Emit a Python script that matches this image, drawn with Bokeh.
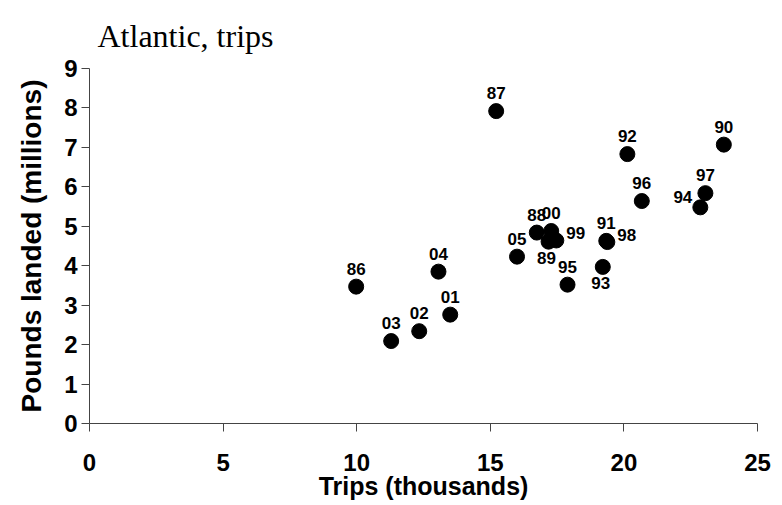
from bokeh.plotting import figure
from bokeh.models import ColumnDataSource, FixedTicker
from bokeh.core.properties import value
from bokeh.embed import file_html
from bokeh.resources import INLINE

# Atlantic fishery: trips (thousands) vs pounds landed (millions), by year
years = ["86", "87", "88", "89", "90", "91", "92", "93", "94", "95",
         "96", "97", "98", "99", "00", "01", "02", "03", "04", "05"]
trips = [9.98, 15.22, 16.74, 17.18, 23.74, 19.34, 20.13, 19.21, 22.86, 17.89,
         20.67, 23.05, 19.38, 17.47, 17.28, 13.50, 12.34, 11.29, 13.06, 16.00]
pounds = [3.47, 7.92, 4.84, 4.61, 7.07, 4.63, 6.83, 3.97, 5.48, 3.52,
          5.64, 5.84, 4.60, 4.64, 4.88, 2.76, 2.34, 2.09, 3.85, 4.23]

x_ticks = [0, 5, 10, 15, 20, 25]
y_ticks = [0, 1, 2, 3, 4, 5, 6, 7, 8, 9]

# where each year's label sits relative to its marker
placement = {"89": "below", "93": "below", "94": "left", "98": "right", "99": "right"}
offsets = {"above": (0, -18, "center"), "below": (-2, 16, "center"),
           "left": (-8, -10, "right"), "right": (10, -7, "left")}

pos = [placement.get(y, "above") for y in years]
src = ColumnDataSource(dict(
    x=trips, y=pounds, label=years,
    dx=[offsets[p][0] for p in pos],
    dy=[offsets[p][1] for p in pos],
    align=[offsets[p][2] for p in pos],
))

SANS = "'Liberation Sans', Arial, sans-serif"

p = figure(width=782, height=505, output_backend="svg", toolbar_location=None,
           x_range=(0, 25), y_range=(0, 9),
           min_border_left=89, min_border_right=25,
           min_border_top=0, min_border_bottom=82,
           title="Atlantic, trips")
p.outline_line_color = None
p.xgrid.visible = False
p.ygrid.visible = False
p.background_fill_color = "white"
p.border_fill_color = "white"

p.title.text_font = "'Liberation Serif', 'Times New Roman', serif"
p.title.text_font_style = "normal"
p.title.text_font_size = "32px"
p.title.text_color = "black"
p.title.align = "left"
p.title.offset = 8
p.title.standoff = 30

p.scatter("x", "y", source=src, size=15, color="black")
p.text("x", "y", text="label", source=src, x_offset="dx", y_offset="dy",
       text_align="align", text_baseline="middle",
       text_font=value(SANS), text_font_style="bold",
       text_font_size="17px", text_color="black")

for ax in (p.xaxis[0], p.yaxis[0]):
    ax.axis_line_color = "#444444"
    ax.major_tick_line_color = "#444444"
    ax.major_tick_out = 8
    ax.major_tick_in = 0
    ax.minor_tick_line_color = None
    ax.major_label_text_font = SANS
    ax.major_label_text_font_style = "bold"
    ax.major_label_text_font_size = "24px"
    ax.major_label_text_color = "black"
    ax.axis_label_text_font = SANS
    ax.axis_label_text_font_style = "bold"
    ax.axis_label_text_color = "black"

p.xaxis.ticker = FixedTicker(ticks=x_ticks)
p.yaxis.ticker = FixedTicker(ticks=y_ticks)
p.xaxis.axis_label = "Trips (thousands)"
p.yaxis.axis_label = "Pounds landed (millions)"
p.xaxis.axis_label_text_font_size = "25px"
p.yaxis.axis_label_text_font_size = "28px"
p.xaxis.major_label_standoff = 22
p.xaxis.axis_label_standoff = -2
p.yaxis.major_label_standoff = 4
p.yaxis.axis_label_standoff = 14

open("out.html", "w").write(file_html(p, INLINE))
